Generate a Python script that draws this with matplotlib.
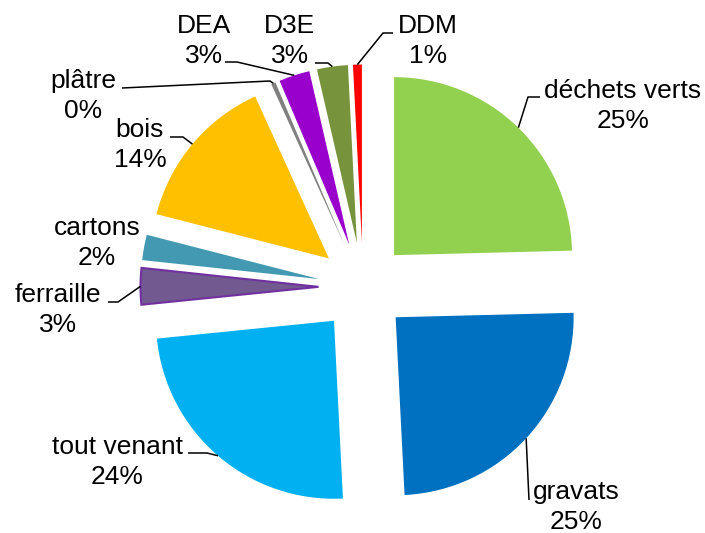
import matplotlib
matplotlib.use("Agg")
import matplotlib.pyplot as plt
import numpy as np

plt.rcParams['font.family'] = ['Liberation Sans', 'DejaVu Sans']

categories = ["déchets verts", "gravats", "tout venant", "ferraille", "cartons",
              "bois", "plâtre", "DEA", "D3E", "DDM"]
values = [24.6, 24.6, 24.2, 3.3, 2.3, 14.2, 0.4, 2.8, 2.8, 0.8]
colors = ["#92D050", "#0070C0", "#00B0F0", "#725990", "#4299B1",
          "#FFC000", "#808080", "#9900CC", "#77933C", "#FF0000"]

W, H = 705, 533
CX, CY, R = 363, 287, 178   # pie centre / radius in pixels
EXPL = 0.25

def px(x, y):
    return ((x - CX) / R, (CY - y) / R)

# label layout (pixels): text centre, elbow point, line end near text
label_layout = {
    "déchets verts": dict(text=(623, 106), pts=[(528, 97), (540, 97)]),
    "gravats":       dict(text=(576, 507), pts=[(529, 500)]),
    "tout venant":   dict(text=(117, 462), pts=[(207, 453), (188, 453)]),
    "ferraille":     dict(text=(58, 310),  pts=[(118, 302), (108, 302)]),
    "cartons":       dict(text=(97, 243),  pts=None),
    "bois":          dict(text=(140, 145), pts=[(183, 137), (170, 137)]),
    "plâtre":        dict(text=(83, 96),   pts=[(270, 81), (122, 88)]),
    "DEA":           dict(text=(204, 41),  pts=[(237, 62), (225, 62)]),
    "D3E":           dict(text=(290, 41),  pts=[(328, 63), (315, 63)]),
    "DDM":           dict(text=(428, 41),  pts=[(383, 33), (393, 33)]),
}

fig = plt.figure(figsize=(W / 100, H / 100), dpi=100)
ax = fig.add_axes([0, 0, 1, 1])

total = sum(values)
wedges, _ = ax.pie(values, colors=colors, startangle=90, counterclock=False,
                   explode=[EXPL] * len(values), radius=1.0,
                   wedgeprops=dict(linewidth=0))
# ferraille has a purple outline
wedges[3].set_edgecolor("#7030A0")
wedges[3].set_linewidth(1.5)

cum = 0.0
for cat, v, w in zip(categories, values, wedges):
    mid = (cum + v / 2) / total * 360.0   # clockwise from top
    cum += v
    th = np.deg2rad(mid)
    dx, dy = np.sin(th), np.cos(th)
    ox, oy = EXPL * dx, EXPL * dy
    anchor = (ox + dx, oy + dy)
    lay = label_layout[cat]
    pct = f"{round(v / total * 100):d}%"
    tx, ty = px(*lay["text"])
    ax.text(tx, ty, f"{cat}\n{pct}", ha="center", va="center",
            fontsize=19, linespacing=1.3, color="#000000")
    if lay["pts"]:
        xs = [anchor[0]] + [px(*p)[0] for p in lay["pts"]]
        ys = [anchor[1]] + [px(*p)[1] for p in lay["pts"]]
        ax.plot(xs, ys, color="#000000", lw=1.1, solid_capstyle="butt")

ax.set_xlim(-CX / R, (W - CX) / R)
ax.set_ylim(-(H - CY) / R, CY / R)
ax.set_aspect("auto")
ax.axis("off")

fig.savefig("out.png", dpi=100, facecolor="white")
